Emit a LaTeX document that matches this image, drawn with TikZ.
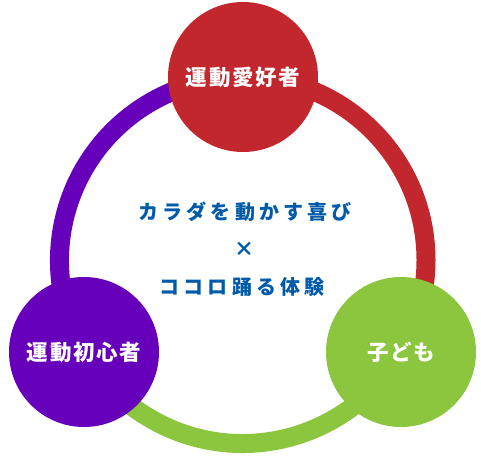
\documentclass[tikz,border=0pt]{standalone}
\usepackage{fontspec}
\newfontfamily\jpnode{Noto Sans CJK JP}[LetterSpace=8]
\newfontfamily\jpmsg{Noto Sans CJK JP}[LetterSpace=21]
\usetikzlibrary{backgrounds}
\definecolor{ringred}{RGB}{193,39,45}
\definecolor{ringpurple}{RGB}{102,0,187}
\definecolor{ringgreen}{RGB}{140,198,63}
\definecolor{textblue}{RGB}{0,90,170}
\tikzset{
	group/.style={circle, inner sep=0pt, minimum size=150pt, text=white, font=\jpnode\bfseries\fontsize{21.5}{21.5}\selectfont},
	ring/.style={line width=19pt},
	% centre message lines
	message/.style={text=textblue, font=\jpmsg\bfseries\fontsize{20}{20}\selectfont}
}

\begin{document}
\begin{tikzpicture}[x=1pt, y=1pt]
	\useasboundingbox (0,0) rectangle (481,-455);
	\node (fan) [group, fill=ringred] at (243,-77) {運動愛好者};
	\node (novice) [group, fill=ringpurple] at (84,-352) {運動初心者};
	\node (child) [group, fill=ringgreen] at (401,-352) {子ども};
	
	\node (joy) [message] at (245,-212) {カラダを動かす喜び};
	\node (times) [message] at (244,-249) {×};
	\node (heart) [message] at (242,-287) {ココロ踊る体験};
	
	\begin{scope}[on background layer]
		\draw[ring, ringred] (fan.center) arc[start angle=90, end angle=-30, radius=183pt];
		\draw[ring, ringgreen] (child.center) arc[start angle=-30, end angle=-150, radius=183pt];
		\draw[ring, ringpurple] (novice.center) arc[start angle=210, end angle=90, radius=183pt];
	\end{scope}
\end{tikzpicture}
\end{document}
